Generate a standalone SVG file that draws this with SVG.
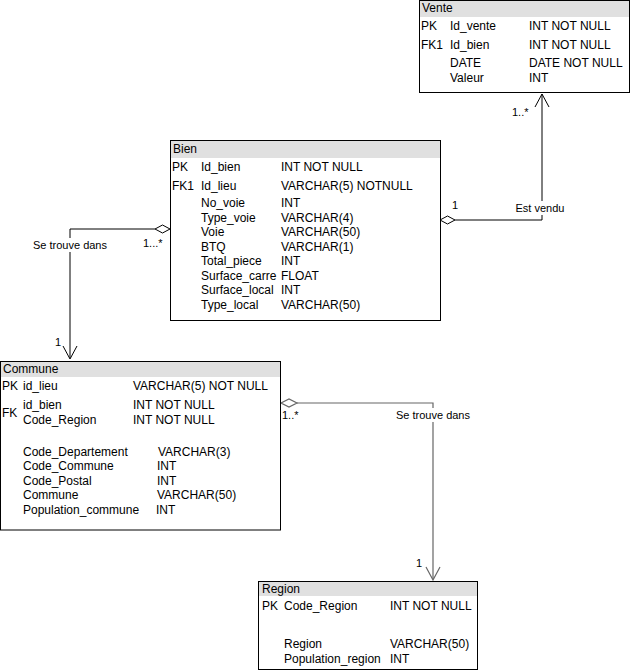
<svg xmlns="http://www.w3.org/2000/svg" width="631" height="671" viewBox="0 0 631 671">
<style>
text{font-family:"Liberation Sans",Arial,Helvetica,sans-serif;font-size:12px;fill:#000}
.box{fill:#fff;stroke:#000;stroke-width:1}
.hdr{fill:#e0e0e0;stroke:none}
.lbl{font-size:11px}
.mid{text-anchor:middle}
.edge{fill:none;stroke:#000;stroke-width:1}
.edge2{fill:none;stroke:#666;stroke-width:1.2}
.dia{fill:#fff;stroke:#000;stroke-width:1}
.dia2{fill:#fff;stroke:#666;stroke-width:1.2}
</style>
<rect width="631" height="671" fill="#fff"/>
<g id="connectors">
  <path class="edge" d="M155,229 H70 V358"/>
  <polyline class="edge" points="63,346 70,359 77,346"/>
  <polygon class="dia" points="170,229 162.5,225 155,229 162.5,233"/>
  <rect x="32" y="238" width="76" height="14" fill="#fff"/>
  <text class="lbl mid" x="70" y="249">Se trouve dans</text>
  <text class="lbl" x="143" y="247">1...*</text>
  <text class="lbl" x="55" y="346">1</text>

  <path class="edge" d="M455,220 H542 V94"/>
  <polyline class="edge" points="535,107 542,94 549,107"/>
  <polygon class="dia" points="440,220 447.5,216 455,220 447.5,224"/>
  <rect x="514" y="201" width="52" height="14" fill="#fff"/>
  <text class="lbl mid" x="540" y="212">Est vendu</text>
  <text class="lbl" x="452" y="209">1</text>
  <text class="lbl" x="512" y="116">1..*</text>

  <path class="edge2" d="M297,403 H433 V579"/>
  <polyline class="edge2" points="426,567 433,580 440,567"/>
  <polygon class="dia2" points="281,403 289,399 297,403 289,407"/>
  <rect x="395" y="408" width="76" height="14" fill="#fff"/>
  <text class="lbl mid" x="433" y="419">Se trouve dans</text>
  <text class="lbl" x="282" y="419">1..*</text>
  <text class="lbl" x="416" y="567">1</text>
</g>
<g id="vente">
  <rect class="box" x="419.5" y="0.5" width="210" height="92"/>
  <rect class="hdr" x="420" y="1" width="209" height="16"/>
  <text x="422" y="12">Vente</text>
  <text x="421" y="30">PK</text><text x="450" y="30">Id_vente</text><text x="529" y="30">INT NOT NULL</text>
  <text x="421" y="49">FK1</text><text x="450" y="49">Id_bien</text><text x="529" y="49">INT NOT NULL</text>
  <text x="450" y="67">DATE</text><text x="529" y="67">DATE NOT NULL</text>
  <text x="450" y="82">Valeur</text><text x="529" y="82">INT</text>
</g>
<g id="bien">
  <rect class="box" x="170.5" y="140.5" width="270" height="180"/>
  <rect class="hdr" x="171" y="141" width="269" height="17"/>
  <text x="173" y="153">Bien</text>
  <text x="172" y="171">PK</text><text x="201" y="171">Id_bien</text><text x="281" y="171">INT NOT NULL</text>
  <text x="172" y="190">FK1</text><text x="201" y="190">Id_lieu</text><text x="281" y="190">VARCHAR(5) NOTNULL</text>
  <text x="201" y="207">No_voie</text><text x="281" y="207">INT</text>
  <text x="201" y="222">Type_voie</text><text x="281" y="222">VARCHAR(4)</text>
  <text x="201" y="236">Voie</text><text x="281" y="236">VARCHAR(50)</text>
  <text x="201" y="251">BTQ</text><text x="281" y="251">VARCHAR(1)</text>
  <text x="201" y="265">Total_piece</text><text x="281" y="265">INT</text>
  <text x="201" y="280">Surface_carre</text><text x="281" y="280">FLOAT</text>
  <text x="201" y="294">Surface_local</text><text x="281" y="294">INT</text>
  <text x="201" y="309">Type_local</text><text x="281" y="309">VARCHAR(50)</text>
</g>
<g id="commune">
  <rect class="box" x="0.5" y="361.5" width="280" height="168.5"/>
  <rect class="hdr" x="1" y="362" width="279" height="15"/>
  <text x="3" y="373">Commune</text>
  <text x="2" y="390">PK</text><text x="23" y="390">id_lieu</text><text x="133" y="390">VARCHAR(5) NOT NULL</text>
  <text x="2" y="417">FK</text>
  <text x="23" y="409">id_bien</text><text x="133" y="409">INT NOT NULL</text>
  <text x="23" y="424">Code_Region</text><text x="133" y="424">INT NOT NULL</text>
  <text x="23" y="456">Code_Departement</text><text x="158" y="456">VARCHAR(3)</text>
  <text x="23" y="470">Code_Commune</text><text x="157" y="470">INT</text>
  <text x="23" y="485">Code_Postal</text><text x="157" y="485">INT</text>
  <text x="23" y="499">Commune</text><text x="157" y="499">VARCHAR(50)</text>
  <text x="23" y="514">Population_commune</text><text x="156" y="514">INT</text>
</g>
<g id="region">
  <rect class="box" x="258.5" y="581.5" width="219" height="88"/>
  <rect class="hdr" x="259" y="582" width="218" height="14"/>
  <text x="262" y="593">Region</text>
  <text x="262" y="610">PK</text><text x="284" y="610">Code_Region</text><text x="390" y="610">INT NOT NULL</text>
  <text x="284" y="648">Region</text><text x="390" y="648">VARCHAR(50)</text>
  <text x="284" y="663">Population_region</text><text x="390" y="663">INT</text>
</g>
</svg>
